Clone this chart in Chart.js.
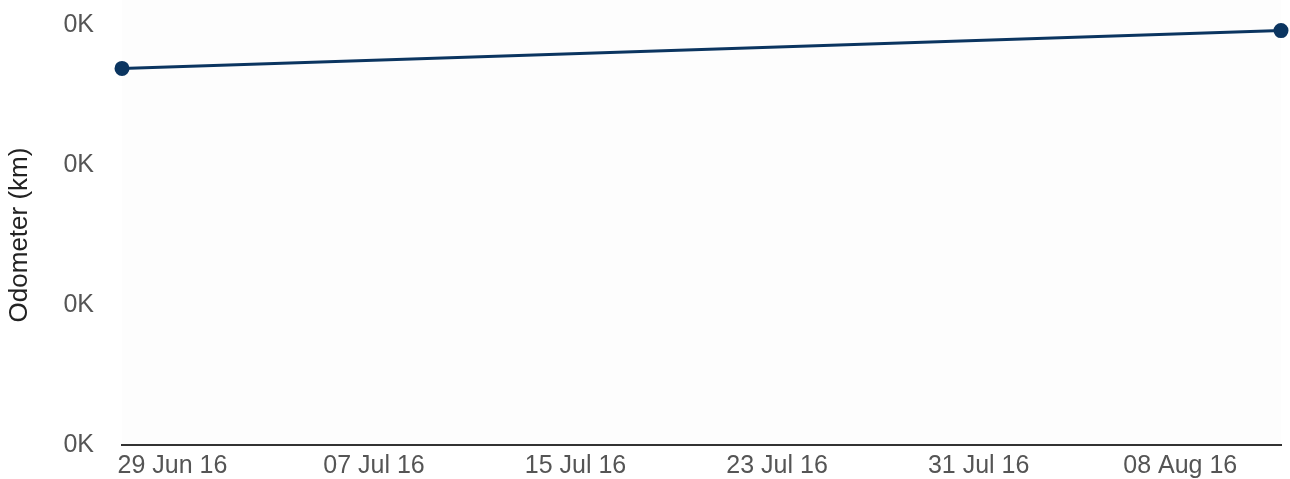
<!DOCTYPE html>
<html>
<head>
<meta charset="utf-8">
<script src="https://cdn.jsdelivr.net/npm/chart.js@4/dist/chart.umd.min.js"></script>
<style>
  html, body { margin: 0; padding: 0; background: #ffffff; }
  #wrap { width: 1290px; height: 479px; position: relative; }
</style>
</head>
<body>
<div id="wrap"><canvas id="odoChart"></canvas></div>
<script>
// Readings (date of reading, odometer in km)
const readingDates = ['2016-06-27', '2016-08-12'];
const odometerKm = [269, 296];

// X-axis tick dates and their labels
const tickDates = ['2016-06-29', '2016-07-07', '2016-07-15', '2016-07-23', '2016-07-31', '2016-08-08'];
const tickLabels = ['29 Jun 16', '07 Jul 16', '15 Jul 16', '23 Jul 16', '31 Jul 16', '08 Aug 16'];

// Y-axis range
const yMin = 0;
const yMax = 300;
const yStep = 100;

const DAY = 24 * 3600 * 1000;
const origin = Date.parse(readingDates[0]);
const toDay = d => (Date.parse(d) - origin) / DAY;

const points = readingDates.map((d, i) => ({ x: toDay(d), y: odometerKm[i] }));
const tickDays = tickDates.map(toDay);

// Light fill behind the plot area
const plotBg = {
    id: 'plotBg',
    beforeDraw(chart) {
        const { ctx, chartArea } = chart;
        ctx.save();
        ctx.fillStyle = '#fdfdfd';
        ctx.fillRect(chartArea.left, 0, chartArea.right - chartArea.left, chartArea.bottom);
        ctx.restore();
    }
};

const textColor = '#555555';
const font = { family: '"Liberation Sans", Arial, sans-serif', size: 25 };

new Chart(document.getElementById('odoChart'), {
    type: 'line',
    data: {
        datasets: [{
            data: points,
            borderColor: '#0b3560',
            backgroundColor: '#0b3560',
            borderWidth: 3,
            pointRadius: 6,
            pointHoverRadius: 6,
            tension: 0,
            fill: false,
            clip: false
        }]
    },
    options: {
        responsive: true,
        maintainAspectRatio: false,
        animation: false,
        layout: { padding: { top: 25, right: 8, left: 0, bottom: 0 } },
        plugins: {
            legend: { display: false },
            tooltip: { enabled: false }
        },
        scales: {
            x: {
                type: 'linear',
                min: toDay(readingDates[0]),
                max: toDay(readingDates[readingDates.length - 1]),
                afterBuildTicks: axis => {
                    axis.ticks = tickDays.map(v => ({ value: v }));
                },
                afterFit: axis => { axis.height = 34; },
                grid: { display: false, drawTicks: false },
                border: { display: true, color: '#333333', width: 2 },
                ticks: {
                    color: textColor,
                    font: font,
                    padding: 6,
                    maxRotation: 0,
                    autoSkip: false,
                    callback: v => tickLabels[tickDays.indexOf(v)] || ''
                }
            },
            y: {
                min: yMin,
                max: yMax,
                afterFit: axis => {
                    axis.width = 122;
                    axis.paddingTop = 0;
                    axis.paddingBottom = 0;
                },
                grid: { display: false, drawTicks: false },
                border: { display: false },
                ticks: {
                    stepSize: yStep,
                    color: textColor,
                    font: font,
                    padding: 28,
                    callback: v => (v / 1000).toFixed(0) + 'K'
                },
                title: {
                    display: true,
                    text: 'Odometer (km)',
                    color: '#222222',
                    font: { family: font.family, size: 26 },
                    padding: { top: 4, bottom: 4 }
                }
            }
        }
    },
    plugins: [plotBg]
});
</script>
</body>
</html>
